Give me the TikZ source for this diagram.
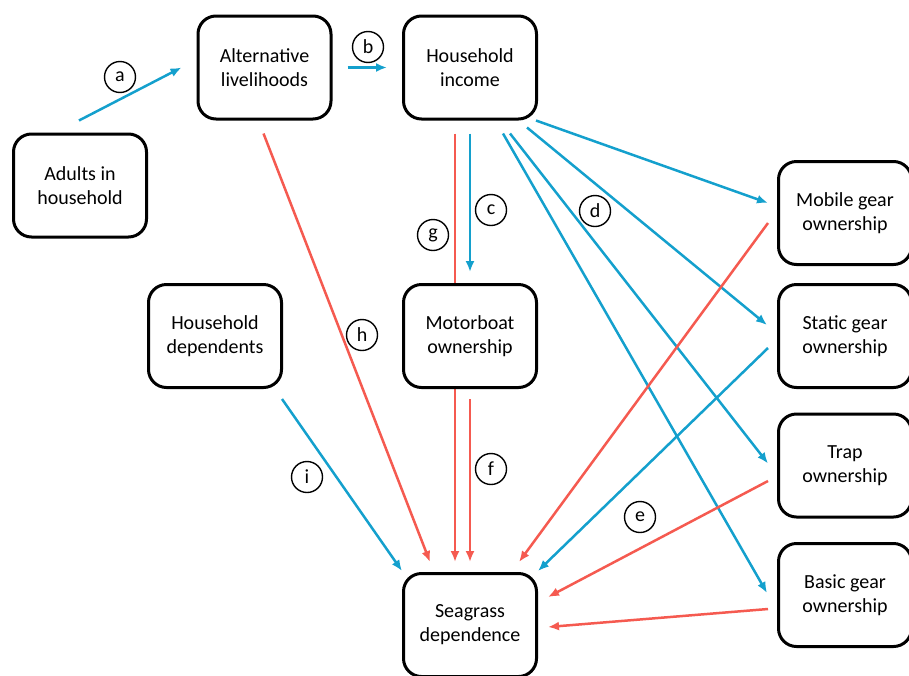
\documentclass[tikz,border=0pt]{standalone}
\usepackage{fontspec}
\setmainfont{Carlito}
\usetikzlibrary{positioning, arrows.meta, backgrounds}
\definecolor{posblue}{RGB}{20,160,205}
\definecolor{negred}{RGB}{245,90,80}

\begin{document}
\begin{tikzpicture}
		[x=1pt, y=-1pt,
		box/.style={draw, line width=3pt, rounded corners=18pt, fill=white,
			minimum width=133pt, minimum height=103pt, align=center,
			font=\fontsize{20}{24}\selectfont},
		posarr/.style={posblue, line width=2.5pt, -{Latex[length=11pt,width=9pt]}},
		negarr/.style={negred, line width=2.5pt, -{Latex[length=11pt,width=9pt]}},
		lab/.style={circle, draw, line width=1.4pt, minimum size=31pt, inner sep=0pt,
			font=\fontsize{20}{20}\selectfont}]
		\useasboundingbox (0,0) rectangle (909,675);
		\clip (0,0) rectangle (909,675);
		% boxes
		\node[box] (adults) at (80,185.5) {Adults in\\household};
		\node[box] (alt) at (264.5,67.5) {Alternative\\livelihoods};
		\node[box] (income) at (470,67.5) {Household\\income};
		\node[box] (depend) at (215,336) {Household\\dependents};
		\node[box] (motor) at (470,336) {Motorboat\\ownership};
		\node[box] (seagrass) at (470,625) {Seagrass\\dependence};
		\node[box] (mobile) at (845,213) {Mobile gear\\ownership};
		\node[box] (static) at (845,336) {Static gear\\ownership};
		\node[box] (trap) at (845,465.5) {Trap\\ownership};
		\node[box] (basic) at (845,595) {Basic gear\\ownership};
	
		% g runs behind the motorboat box
		\begin{scope}[on background layer]
			\draw[negarr] ([shift={(-15pt,-13pt)}]income.south) -- ([shift={(-15pt,10pt)}]seagrass.north);
		\end{scope}
	
		\draw[posarr] ([shift={(-1pt,12pt)}]adults.north) -- ([xshift=-15pt]alt.west);
		\draw[posarr] ([xshift=15pt]alt.east) -- ([xshift=-15pt]income.west);
		\draw[posarr] ([yshift=-13pt]income.south) -- ([yshift=11pt]motor.north);
		\draw[posarr] ([xshift=-2pt]income.south east) -- ([shift={(-9pt,10pt)}]mobile.west);
		\draw[posarr] ([shift={(-11pt,-7pt)}]income.south east) -- ([shift={(-10pt,11pt)}]static.west);
		\draw[posarr] ([shift={(-28pt,-13pt)}]income.south east) -- ([shift={(-9pt,2pt)}]trap.west);
		\draw[posarr] ([shift={(-35pt,-13pt)}]income.south east) -- ([shift={(-10pt,2pt)}]basic.west);
		\draw[negarr] ([yshift=-10pt]motor.south) -- ([yshift=10pt]seagrass.north);
		\draw[negarr] ([shift={(-1pt,-13pt)}]alt.south) -- ([shift={(-40pt,10pt)}]seagrass.north);
		\draw[posarr] ([shift={(-1pt,-10pt)}]depend.south east) -- ([yshift=1pt]seagrass.north west);
		\draw[negarr] ([shift={(-9pt,-10pt)}]mobile.west) -- ([shift={(-19pt,10pt)}]seagrass.north east);
		\draw[posarr] ([shift={(-9pt,-12pt)}]static.west) -- ([yshift=1pt]seagrass.north east);
		\draw[negarr] ([shift={(-9pt,-15.5pt)}]trap.west) -- ([shift={(10pt,28pt)}]seagrass.east);
		\draw[negarr] ([shift={(-9pt,-14pt)}]basic.west) -- ([shift={(10pt,-2pt)}]seagrass.east);
	
		% path labels
		\node[lab] (la) at (120,77) {a};
		\node[lab] (lb) at (368,47) {b};
		\node[lab] (lc) at (491,210) {c};
		\node[lab] (ld) at (595,211) {d};
		\node[lab] (le) at (640,517) {e};
		\node[lab] (lf) at (491,469) {f};
		\node[lab] (lg) at (433,235) {g};
		\node[lab] (lh) at (362,335) {h};
		\node[lab] (li) at (307,477) {i};
	\end{tikzpicture}
\end{document}
